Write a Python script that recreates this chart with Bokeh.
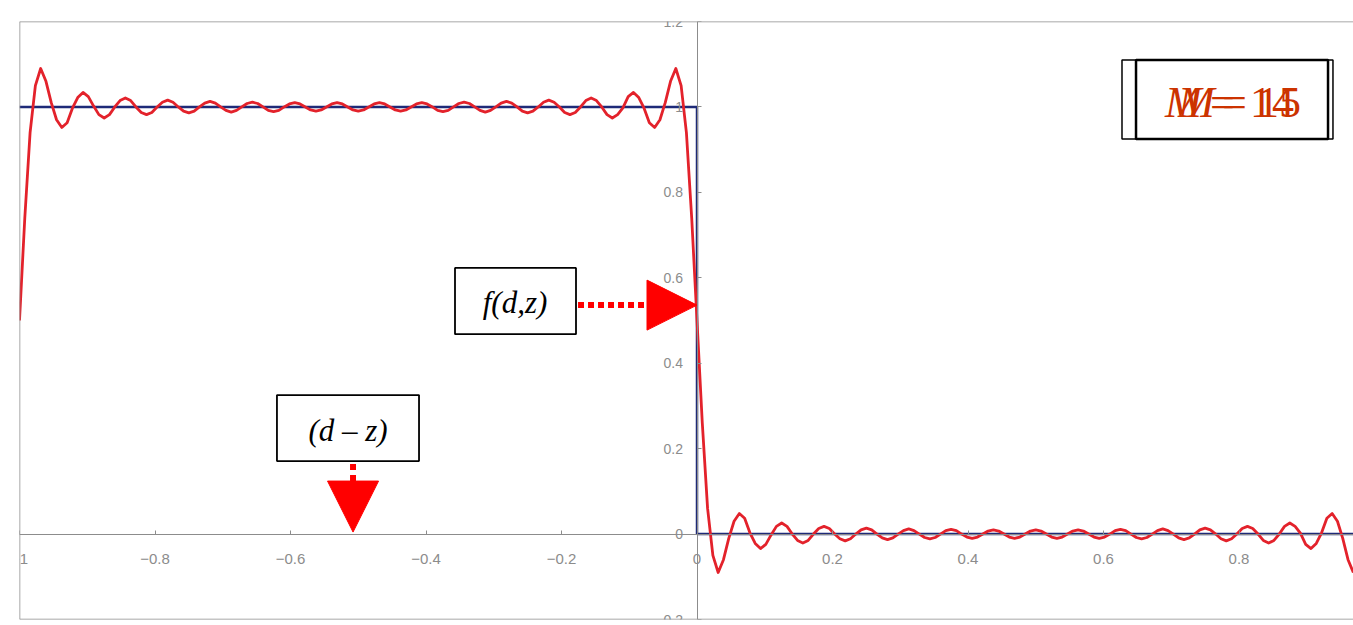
from bokeh.plotting import figure
from bokeh.models import (Range1d, FixedTicker, Span, BoxAnnotation, Label,
                          Arrow, NormalHead)
from bokeh.embed import file_html
from bokeh.resources import INLINE

# ---------------- data ----------------
x_ticks = [-1, -0.8, -0.6, -0.4, -0.2, 0, 0.2, 0.4, 0.6, 0.8]
x_tick_labels = ["\u22121", "\u22120.8", "\u22120.6", "\u22120.4", "\u22120.2",
                 "0", "0.2", "0.4", "0.6", "0.8"]
y_ticks = [-0.2, 0, 0.2, 0.4, 0.6, 0.8, 1.0, 1.2]
y_tick_labels = ["-0.2", "0", "0.2", "0.4", "0.6", "0.8", "1", "1.2"]

# target step function
step_x = [-1.0, 0.0, 0.0, 0.969]
step_y = [1.0, 1.0, 0.0, 0.0]

# partial Fourier sum on a grid of 1/128 in x
sample_step = 1 / 128
# from x = -1 to x = 0
curve_left_y = [
    0.50, 0.74, 0.94, 1.05,
    1.09, 1.06, 1.01, 0.97,
    0.952, 0.963, 0.997, 1.022,
    1.034, 1.024, 1.002, 0.982,
    0.974, 0.982, 1.0, 1.015,
    1.021, 1.015, 1.0, 0.987,
    0.982, 0.987, 1.0, 1.011,
    1.016, 1.011, 1.0, 0.990,
    0.986, 0.990, 1.0, 1.009,
    1.013, 1.009, 1.0, 0.992,
    0.988, 0.992, 1.0, 1.008,
    1.011, 1.008, 1.0, 0.992,
    0.989, 0.992, 1.0, 1.007,
    1.010, 1.007, 1.0, 0.993,
    0.990, 0.993, 1.0, 1.007,
    1.010, 1.007, 1.0, 0.993,
    0.990, 0.993, 1.0, 1.007,
    1.010, 1.007, 1.0, 0.993,
    0.990, 0.993, 1.0, 1.007,
    1.010, 1.007, 1.0, 0.992,
    0.989, 0.992, 1.0, 1.008,
    1.011, 1.008, 1.0, 0.992,
    0.988, 0.992, 1.0, 1.009,
    1.013, 1.009, 1.0, 0.990,
    0.986, 0.990, 1.0, 1.011,
    1.016, 1.011, 1.0, 0.987,
    0.982, 0.987, 1.0, 1.015,
    1.021, 1.015, 1.0, 0.982,
    0.974, 0.982, 0.998, 1.024,
    1.034, 1.022, 0.997, 0.963,
    0.952, 0.97, 1.01, 1.06,
    1.09, 1.05, 0.94, 0.74,
    0.50]
# from x = 0 to x = 0.96875
curve_right_y = [
    0.50, 0.26, 0.06, -0.05,
    -0.09, -0.06, -0.01, 0.03,
    0.048, 0.037, 0.003, -0.022,
    -0.034, -0.024, -0.002, 0.018,
    0.026, 0.018, 0.0, -0.015,
    -0.021, -0.015, 0.0, 0.013,
    0.018, 0.013, 0.0, -0.011,
    -0.016, -0.011, 0.0, 0.010,
    0.014, 0.010, 0.0, -0.009,
    -0.013, -0.009, 0.0, 0.008,
    0.012, 0.008, 0.0, -0.008,
    -0.011, -0.008, 0.0, 0.008,
    0.011, 0.008, 0.0, -0.007,
    -0.010, -0.007, 0.0, 0.007,
    0.010, 0.007, 0.0, -0.007,
    -0.010, -0.007, 0.0, 0.007,
    0.010, 0.007, 0.0, -0.007,
    -0.010, -0.007, 0.0, 0.007,
    0.010, 0.007, 0.0, -0.007,
    -0.010, -0.007, 0.0, 0.008,
    0.011, 0.008, 0.0, -0.008,
    -0.011, -0.008, 0.0, 0.008,
    0.012, 0.008, 0.0, -0.009,
    -0.013, -0.009, 0.0, 0.010,
    0.014, 0.010, 0.0, -0.011,
    -0.016, -0.011, 0.0, 0.013,
    0.018, 0.013, 0.0, -0.015,
    -0.021, -0.015, 0.0, 0.018,
    0.026, 0.018, 0.002, -0.024,
    -0.034, -0.022, 0.003, 0.037,
    0.048, 0.03, -0.01, -0.06,
    -0.09]
curve_left_x = [-1.0 + i * sample_step for i in range(len(curve_left_y))]
curve_right_x = [i * sample_step for i in range(len(curve_right_y))]

m_names = ["M", "M"]
m_numbers = ["14", "15"]

# ---------------- figure ----------------
GRAY = "#8c8c8c"
p = figure(width=1353, height=625, output_backend="svg", toolbar_location=None,
           x_range=Range1d(-1.0, 0.969), y_range=Range1d(-0.2, 1.2),
           min_border_left=19, min_border_right=0, min_border_top=21,
           min_border_bottom=6)
p.outline_line_color = None
p.grid.visible = False
p.background_fill_color = "white"

for ax in (p.xaxis[0], p.yaxis[0]):
    ax.fixed_location = 0
    ax.axis_line_color = GRAY
    ax.axis_line_width = 1
    ax.major_tick_line_color = GRAY
    ax.major_tick_in = 4
    ax.major_tick_out = 0
    ax.minor_tick_line_color = None
    ax.major_label_text_color = GRAY
    ax.major_label_text_font = "Liberation Sans"

p.xaxis.ticker = FixedTicker(ticks=x_ticks)
p.xaxis.major_label_overrides = dict(zip(x_ticks, x_tick_labels))
p.xaxis.major_label_standoff = 20
p.xaxis.major_label_text_font_size = "15px"
p.yaxis.ticker = FixedTicker(ticks=y_ticks)
p.yaxis.major_label_overrides = dict(zip(y_ticks, y_tick_labels))
p.yaxis.major_label_standoff = 14
p.yaxis.major_label_text_font_size = "14px"

# frame borders (left, top, bottom)
p.add_layout(Span(location=-1.0, dimension="height", line_color=GRAY, line_width=1.5))
p.add_layout(Span(location=1.2, dimension="width", line_color=GRAY, line_width=1.5))
p.add_layout(Span(location=-0.2, dimension="width", line_color=GRAY, line_width=1.5))

# lines
p.line(step_x, step_y, line_color="#1e2a78", line_width=2.5)
p.line(curve_left_x + curve_right_x[1:], curve_left_y + curve_right_y[1:],
       line_color="#e3222b", line_width=2.8, line_join="round")

# arrows
p.add_layout(Arrow(end=NormalHead(size=50, fill_color="#ff0000", line_color="#ff0000"),
                   x_start=-0.1756, y_start=0.536, x_end=0.0, y_end=0.536,
                   line_color="#ff0000", line_width=6, line_dash="6 4"))
p.add_layout(Arrow(end=NormalHead(size=51, fill_color="#ff0000", line_color="#ff0000"),
                   x_start=-0.5077, y_start=0.164, x_end=-0.5077, y_end=0.0047,
                   line_color="#ff0000", line_width=6, line_dash="6 5"))

# text boxes
p.add_layout(BoxAnnotation(left=-0.3572, right=-0.1786, bottom=0.468, top=0.623,
                           fill_color="white", fill_alpha=1, line_color="black",
                           line_width=1.8, line_alpha=1))
p.add_layout(Label(x=-0.2686, y=0.541, text="f(d,z)", text_font="Liberation Serif",
                   text_font_style="italic", text_font_size="31px",
                   text_align="center", text_baseline="middle", text_color="black"))

p.add_layout(BoxAnnotation(left=-0.620, right=-0.4103, bottom=0.171, top=0.3255,
                           fill_color="white", fill_alpha=1, line_color="black",
                           line_width=1.8, line_alpha=1))
p.add_layout(Label(x=-0.515, y=0.2436, text="(d \u2013 z)", text_font="Liberation Serif",
                   text_font_style="italic", text_font_size="31px",
                   text_align="center", text_baseline="middle", text_color="black"))

p.add_layout(BoxAnnotation(left=0.6273, right=0.9387, bottom=0.925, top=1.110,
                           fill_color="white", fill_alpha=1, line_color="black",
                           line_width=1.5, line_alpha=1))
p.add_layout(BoxAnnotation(left=0.648, right=0.9314, bottom=0.925, top=1.110,
                           fill_color=None, line_color="black",
                           line_width=2.5, line_alpha=1))

ORANGE = "#cc3300"
M_FONT = "44px"
M_BASE = 1.011
m_x = [0.6908, 0.7100]
eq_x = [0.7572, 0.7749]
num_x = [0.8162, 0.8266]
for i in range(2):
    p.add_layout(Label(x=m_x[i], y=M_BASE, text=m_names[i], text_font="Liberation Serif",
                       text_font_style="italic", text_font_size=M_FONT,
                       text_align="left", text_baseline="alphabetic", text_color=ORANGE))
    p.add_layout(Label(x=eq_x[i], y=M_BASE, text="=", text_font="Liberation Serif",
                       text_font_size=M_FONT,
                       text_align="left", text_baseline="alphabetic", text_color=ORANGE))
    p.add_layout(Label(x=num_x[i], y=M_BASE, text=m_numbers[i], text_font="Liberation Serif",
                       text_font_size=M_FONT,
                       text_align="left", text_baseline="alphabetic", text_color=ORANGE))

open("out.html", "w").write(file_html(p, INLINE))
